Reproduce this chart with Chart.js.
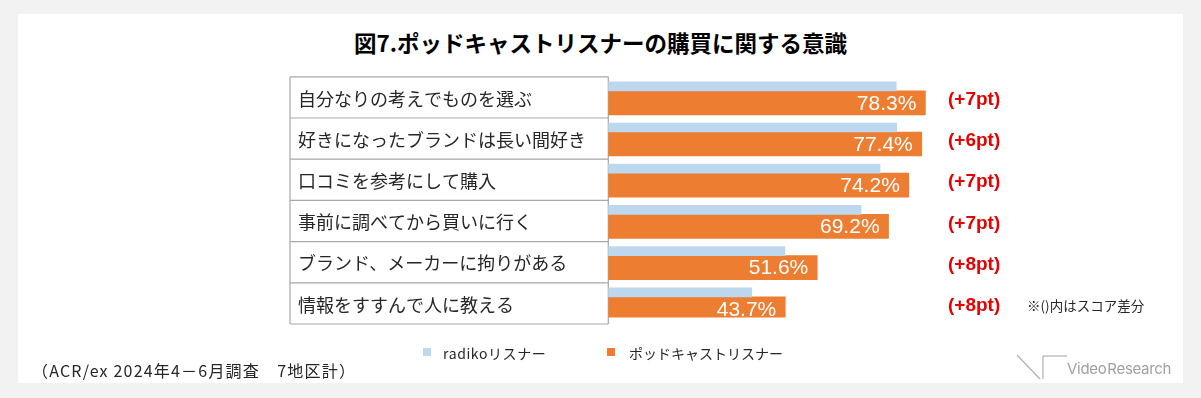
<!DOCTYPE html>
<html>
<head>
<meta charset="utf-8">
<script src="https://cdn.jsdelivr.net/npm/chart.js"></script>
<style>
  body { margin: 0; background: #f2f2f2; width: 1201px; height: 398px; position: relative; overflow: hidden;
         font-family: "Noto Sans CJK JP", "Noto Sans", sans-serif; }
  .panel { position: absolute; left: 18px; top: 14px; width: 1165px; height: 369px; background: #fff; }
  #chart { position: absolute; left: 0; top: 0; }
  .title { position: absolute; left: 0; width: 1201px; top: 31px; text-align: center;
           font-size: 22.5px; font-weight: bold; line-height: 23px; color: #000; }
  .legend { position: absolute; top: 345px; font-size: 14px; line-height: 16px; color: #262626; white-space: nowrap; }
  .legend span.box { position: absolute; top: 3px; width: 8px; height: 8px; }
  .foot { position: absolute; left: 32px; top: 361px; font-size: 16px; line-height: 18px; color: #262626;
          letter-spacing: 1.2px; white-space: nowrap; }
  .note { position: absolute; left: 1027px; top: 297px; font-size: 13.5px; line-height: 16px; color: #262626; white-space: nowrap; }
  .logo { position: absolute; left: 1015px; top: 353px; }
  .logo span { position: absolute; left: 52px; top: 8px; font-family: Inter, sans-serif; font-size: 15px;
               line-height: 16px; color: #a0a0a0; white-space: nowrap; word-spacing: -3px; letter-spacing: -0.3px; }
</style>
</head>
<body>
<div class="panel"></div>
<div class="title">図7.ポッドキャストリスナーの購買に関する意識</div>
<canvas id="chart" width="1201" height="398"></canvas>
<div class="legend" style="left:423px"><span class="box" style="left:0;background:#bdd7ee"></span><span style="padding-left:20px;letter-spacing:0.6px">radikoリスナー</span></div>
<div class="legend" style="left:607px"><span class="box" style="left:0;background:#ed7d31"></span><span style="padding-left:22px">ポッドキャストリスナー</span></div>
<div class="foot">（ACR/ex 2024年4－6月調査　7地区計）</div>
<div class="note">※()内はスコア差分</div>
<div class="logo">
  <svg width="60" height="30" style="position:absolute;left:0;top:0">
    <line x1="2" y1="2" x2="25" y2="26" stroke="#b0b0b0" stroke-width="1.2"/>
    <line x1="28" y1="3" x2="28" y2="26" stroke="#b0b0b0" stroke-width="1.2"/>
    <line x1="28" y1="3" x2="52" y2="3" stroke="#b0b0b0" stroke-width="1.2"/>
  </svg>
  <span>Video Research</span>
</div>
<script>
const categories = [
  '自分なりの考えでものを選ぶ',
  '好きになったブランドは長い間好き',
  '口コミを参考にして購入',
  '事前に調べてから買いに行く',
  'ブランド、メーカーに拘りがある',
  '情報をすすんで人に教える'
];
const radikoValues = [71.1, 71.2, 67.1, 62.4, 43.6, 35.4];
const podcastValues = [78.3, 77.4, 74.2, 69.2, 51.6, 43.7];
const scoreDiffs = [7, 6, 7, 7, 8, 8];

// table lines round the category labels + value and diff labels
const labelTable = {
  id: 'labelTable',
  beforeDatasetsDraw(chart) {
    const ctx = chart.ctx;
    const y = chart.scales.y;
    const step = y.getPixelForValue(1) - y.getPixelForValue(0);
    const top = y.getPixelForValue(0) - step / 2 + 6.6;
    const bottom = top + step * categories.length;
    const left = 290, right = chart.chartArea.left;
    ctx.save();
    ctx.strokeStyle = '#a8a8a8';
    ctx.lineWidth = 1.2;
    ctx.beginPath();
    for (let i = 0; i <= categories.length; i++) {
      ctx.moveTo(left, top + i * step);
      ctx.lineTo(right, top + i * step);
    }
    ctx.moveTo(left, top);
    ctx.lineTo(left, bottom);
    ctx.moveTo(right, top);
    ctx.lineTo(right, bottom);
    ctx.stroke();
    ctx.restore();
  },
  afterDatasetsDraw(chart) {
    const ctx = chart.ctx;
    const meta = chart.getDatasetMeta(1);
    ctx.save();
    ctx.textBaseline = 'middle';
    meta.data.forEach((bar, i) => {
      ctx.font = '21px "Liberation Sans", Arial, sans-serif';
      ctx.fillStyle = '#fff';
      ctx.textAlign = 'right';
      ctx.fillText(podcastValues[i].toFixed(1) + '%', bar.x - 9, bar.y + 1);
      ctx.font = 'bold 19px "Liberation Sans", Arial, sans-serif';
      ctx.fillStyle = '#e60000';
      ctx.textAlign = 'left';
      ctx.fillText('(+' + scoreDiffs[i] + 'pt)', 948, bar.y - 3);
    });
    ctx.restore();
  }
};

const ctx = document.getElementById('chart').getContext('2d');
new Chart(ctx, {
  type: 'bar',
  data: {
    labels: categories,
    datasets: [
      {
        label: 'radikoリスナー',
        data: radikoValues,
        backgroundColor: '#bdd7ee',
        barThickness: 9
      },
      {
        label: 'ポッドキャストリスナー',
        data: podcastValues,
        backgroundColor: '#ed7d31',
        barThickness: 24
      }
    ]
  },
  options: {
    indexAxis: 'y',
    responsive: false,
    animation: false,
    devicePixelRatio: 1,
    layout: { padding: { left: 298, top: 70.2, right: 187.7, bottom: 80.6 } },
    scales: {
      x: { display: false, min: 0, max: 100 },
      y: {
        grid: { display: false, drawTicks: false },
        border: { display: false },
        ticks: {
          crossAlign: 'far',
          padding: 0,
          labelOffset: 8,
          autoSkip: false,
          color: '#262626',
          font: { family: '"Noto Sans CJK JP", sans-serif', size: 18 }
        },
        afterFit(scale) { scale.width = 310.3; }
      }
    },
    plugins: {
      legend: { display: false },
      tooltip: { enabled: false }
    }
  },
  plugins: [labelTable]
});
</script>
</body>
</html>
